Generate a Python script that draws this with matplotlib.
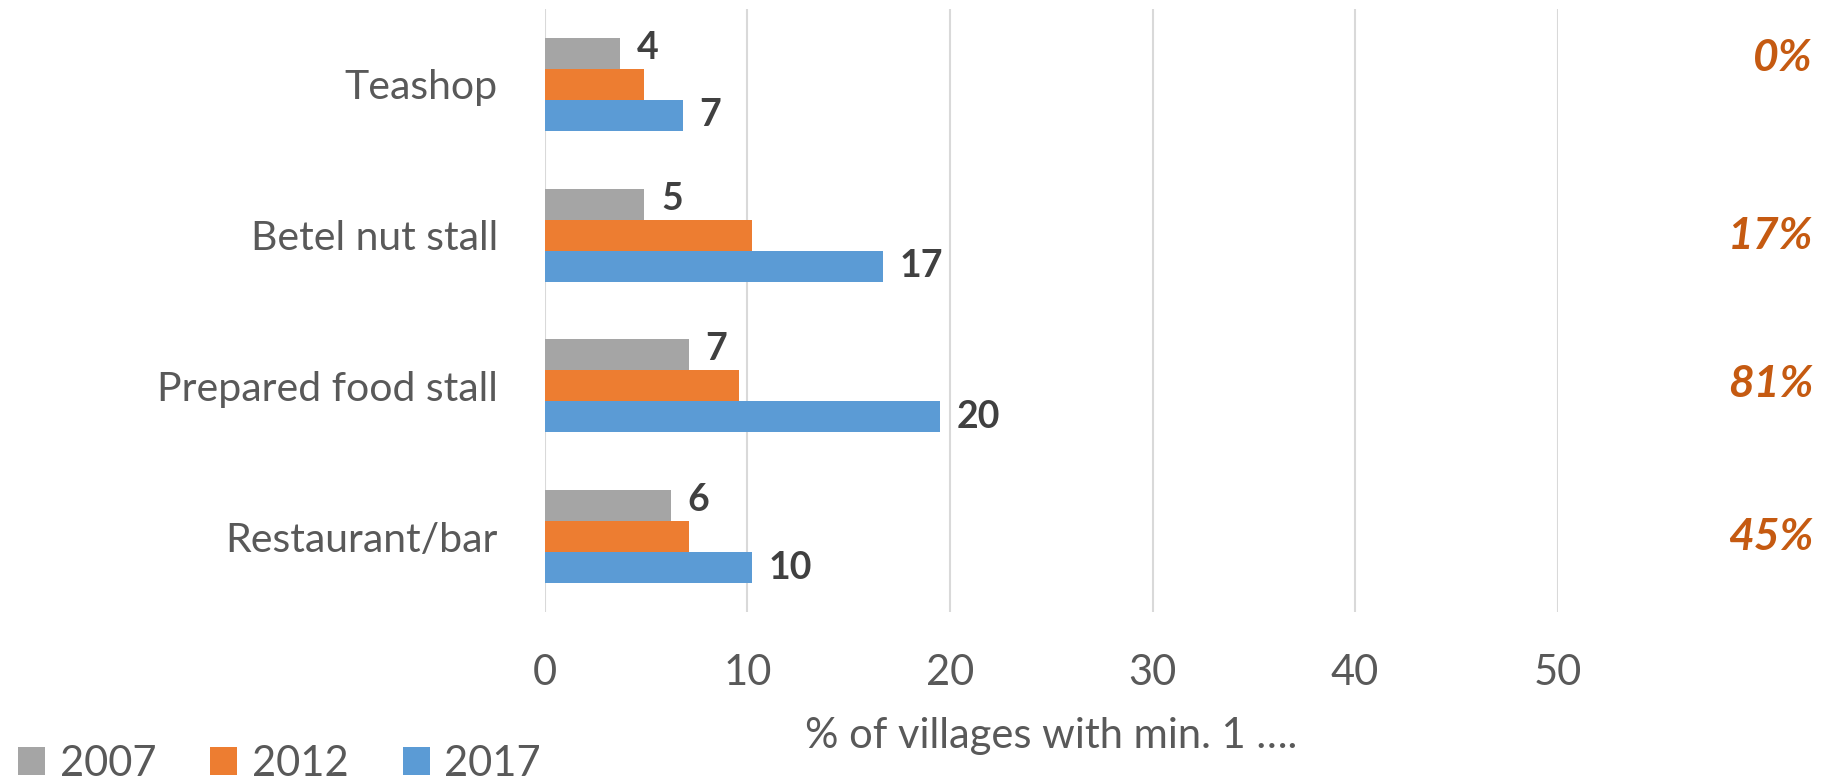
import matplotlib
matplotlib.use("Agg")
import matplotlib.pyplot as plt
from matplotlib.patches import Patch
import numpy as np

# data
categories = ["Teashop", "Betel nut stall", "Prepared food stall", "Restaurant/bar"]
years = ["2007", "2012", "2017"]
vals_2007 = [3.7, 4.9, 7.1, 6.2]
vals_2012 = [4.9, 10.2, 9.6, 7.1]
vals_2017 = [6.8, 16.7, 19.5, 10.2]
shares = ["0%", "17%", "81%", "45%"]

colors = ["#A5A5A5", "#ED7D31", "#5B9BD5"]
text_grey = "#595959"
label_dark = "#404040"
share_color = "#C55A11"

plt.rcParams['font.family'] = ['Lato', 'DejaVu Sans']

W, H = 1824, 783
fig = plt.figure(figsize=(W / 100, H / 100), dpi=100)
ax = fig.add_axes([545 / W, 1 - 612 / H, (1557.5 - 545) / W, 603 / H])

y = np.arange(len(categories))
bar_h = 0.206
series = [vals_2007, vals_2012, vals_2017]
bars = []
for i, (vals, col) in enumerate(zip(series, colors)):
    b = ax.barh(y + (i - 1) * bar_h, vals, height=bar_h, color=col, linewidth=0, zorder=3)
    bars.append(b)

# value labels only on 2007 and 2017
for rect, v in zip(bars[0], vals_2007):
    ax.annotate(f"{v:.0f}", (rect.get_width(), rect.get_y() + rect.get_height() / 2),
                xytext=(12, 4), textcoords="offset points", ha="left", va="center",
                fontsize=27, fontweight="bold", color=label_dark)
for rect, v in zip(bars[2], vals_2017):
    ax.annotate(f"{v:.0f}", (rect.get_width(), rect.get_y() + rect.get_height() / 2),
                xytext=(12, 0), textcoords="offset points", ha="left", va="center",
                fontsize=27, fontweight="bold", color=label_dark)

ax.set_xlim(0, 50)
ax.set_ylim(len(categories) - 0.5, -0.5)
ax.set_xticks(np.arange(0, 60, 10))
ax.set_yticks(y)
ax.set_yticklabels(categories)
ax.tick_params(axis="both", length=0, labelsize=30, colors=text_grey)
ax.tick_params(axis="y", labelsize=29.5, pad=34)
ax.tick_params(axis="x", pad=30)
ax.xaxis.grid(True, color="#D9D9D9", linewidth=1.5, zorder=0)
for s in ax.spines.values():
    s.set_visible(False)
ax.set_xlabel("% of villages with min. 1 ….", fontsize=30, color=text_grey, labelpad=18)

# share labels on the right
share_y = [58, 236, 384, 537]
for txt, py in zip(shares, share_y):
    fig.text(1813 / W, 1 - py / H, txt, ha="right", va="center", fontsize=32,
             fontweight="bold", fontstyle="italic", color=share_color)

handles = [Patch(facecolor=c, edgecolor="none") for c in colors]
leg = fig.legend(handles, years, loc="lower left", bbox_to_anchor=(18 / W, 0),
                 ncol=3, frameon=False, fontsize=30, handlelength=0.65, handleheight=0.65,
                 handletextpad=0.35, columnspacing=1.3, borderpad=0, borderaxespad=0)
for t in leg.get_texts():
    t.set_color(text_grey)

fig.savefig("out.png", dpi=100)
